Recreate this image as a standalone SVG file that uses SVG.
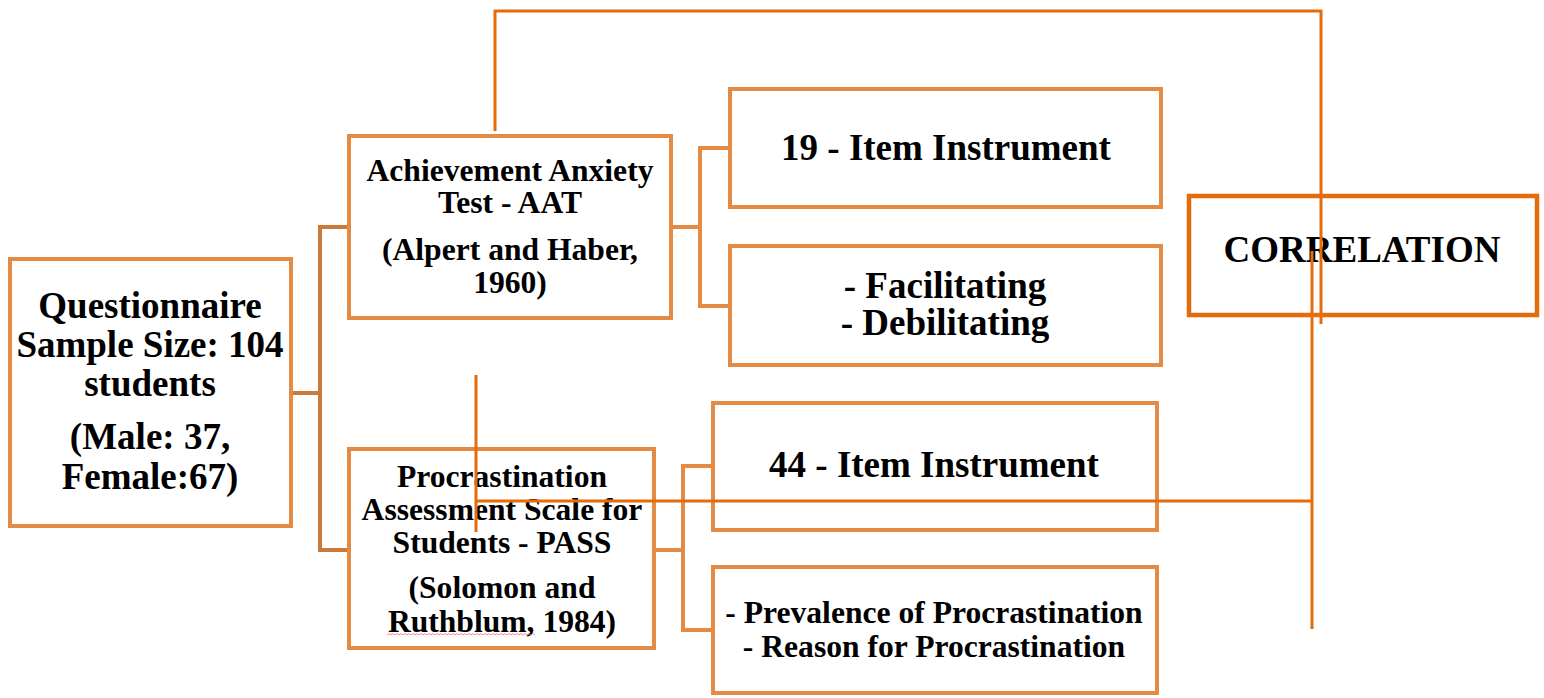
<svg xmlns="http://www.w3.org/2000/svg" width="1544" height="698" viewBox="0 0 1544 698">
<style>
.box{fill:#fff;stroke:#E38A45;stroke-width:4;}
.corr{fill:#fff;stroke:#E46C0A;stroke-width:4.5;}
.t{font-family:"Liberation Serif","Times New Roman",serif;font-weight:bold;fill:#000;text-anchor:middle;}
.f37{font-size:37px;}
.f36{font-size:37px;}
.f31{font-size:31.6px;}
.br{fill:none;stroke:#C97B3D;stroke-width:4;}
.br2{fill:none;stroke:#E38A45;stroke-width:4;}
.ov{fill:none;stroke:#E46C0A;stroke-width:3;}
</style>
<rect width="1544" height="698" fill="#fff"/>
<g id="connectors">
<path class="br" d="M292 393 H320 M348 227 H320 V550 H348"/>
<path class="br2" d="M673 227 H700 M728 148 H700 V306 H728"/>
<path class="br2" d="M656 550 H683 M711 466 H683 V630 H711"/>
</g>
<g id="questionnaire">
<rect class="box" x="10" y="259" width="281" height="267"/>
<text class="t f37" x="150" y="318">Questionnaire</text>
<text class="t f37" x="150" y="357">Sample Size: 104</text>
<text class="t f37" x="150" y="396">students</text>
<text class="t f37" x="150" y="449">(Male: 37,</text>
<text class="t f37" x="150" y="489">Female:67)</text>
</g>
<g id="aat">
<rect class="box" x="349" y="136" width="322" height="182"/>
<text class="t f31" x="510" y="181">Achievement Anxiety</text>
<text class="t f31" x="510" y="213">Test - AAT</text>
<text class="t f31" x="510" y="260">(Alpert and Haber,</text>
<text class="t f31" x="510" y="293">1960)</text>
</g>
<g id="pass">
<rect class="box" x="349" y="449" width="305" height="199"/>
<text class="t f31" x="502" y="487">Procrastination</text>
<text class="t f31" x="502" y="520">Assessment Scale for</text>
<text class="t f31" x="502" y="553">Students - PASS</text>
<text class="t f31" x="502" y="598">(Solomon and</text>
<text class="t f31" x="502" y="632">Ruthblum, 1984)</text>
<path d="M387 635 l2 -1.5 l2 1.5 l2 -1.5 l2 1.5 l2 -1.5 l2 1.5 l2 -1.5 l2 1.5 l2 -1.5 l2 1.5 l2 -1.5 l2 1.5 l2 -1.5 l2 1.5 l2 -1.5 l2 1.5 l2 -1.5 l2 1.5 l2 -1.5 l2 1.5 l2 -1.5 l2 1.5 l2 -1.5 l2 1.5 l2 -1.5 l2 1.5 l2 -1.5 l2 1.5 l2 -1.5 l2 1.5 l2 -1.5 l2 1.5 l2 -1.5 l2 1.5 l2 -1.5 l2 1.5 l2 -1.5 l2 1.5 l2 -1.5 l2 1.5 l2 -1.5 l2 1.5 l2 -1.5 l2 1.5 l2 -1.5 l2 1.5 l2 -1.5 l2 1.5 l2 -1.5 l2 1.5 l2 -1.5 l2 1.5 l2 -1.5 l2 1.5 l2 -1.5 l2 1.5 l2 -1.5 l2 1.5 l2 -1.5 l2 1.5 l2 -1.5 l2 1.5 l2 -1.5 l2 1.5 l2 -1.5 l2 1.5 l2 -1.5 l2 1.5 l2 -1.5 l2 1.5 l2 -1.5 l2 1.5 l2 -1.5 l2 1.5" fill="none" stroke="#E87070" stroke-width="0.8"/>
</g>
<g id="item19">
<rect class="box" x="730" y="89" width="431" height="118"/>
<text class="t f36" x="946" y="160">19 - Item Instrument</text>
</g>
<g id="aat-types">
<rect class="box" x="730" y="246" width="431" height="119"/>
<text class="t f36" x="945" y="298">- Facilitating</text>
<text class="t f36" x="945" y="335">- Debilitating</text>
</g>
<g id="item44">
<rect class="box" x="713" y="403" width="444" height="127"/>
<text class="t f36" x="934" y="477">44 - Item Instrument</text>
</g>
<g id="pass-types">
<rect class="box" x="713" y="567" width="444" height="126"/>
<text class="t f31" x="934" y="623">- Prevalence of Procrastination</text>
<text class="t f31" x="934" y="657">- Reason for Procrastination</text>
</g>
<g id="correlation">
<rect class="corr" x="1189" y="196" width="348" height="119"/>
<text class="t f36" x="1362" y="262">CORRELATION</text>
</g>
<g id="correlation-links">
<path class="ov" d="M495 131 V11 H1321 V324"/>
<path class="ov" d="M476 375 V532"/>
<path class="ov" d="M476 501 H1312"/>
<path class="ov" d="M1312 251 V629"/>
</g>
</svg>
